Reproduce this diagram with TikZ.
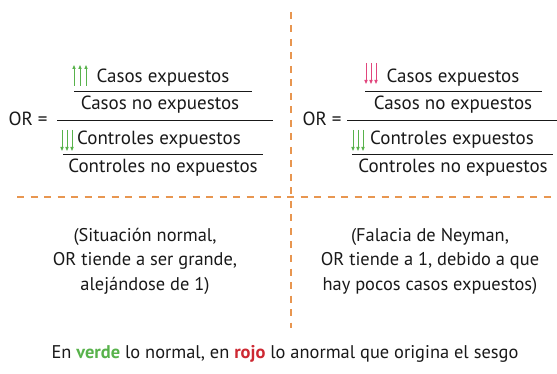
\documentclass[tikz,border=0pt]{standalone}
\usepackage{fontspec}
\setmainfont{PT Sans}
\usetikzlibrary{arrows.meta}
\definecolor{dashor}{RGB}{232,150,80}
\definecolor{grn}{RGB}{88,178,75}
\definecolor{pnk}{RGB}{225,70,125}
\definecolor{rojo}{RGB}{205,40,50}
\definecolor{ink}{RGB}{25,25,25}
\begin{document}
\begin{tikzpicture}[x=1pt,y=-1pt,
  txt/.style={font=\fontsize{19}{22}\selectfont, inner sep=0pt, text=ink},
  note/.style={font=\fontsize{18.4}{24.5}\selectfont, inner sep=0pt, text=ink, align=center},
  bar/.style={line width=1pt, draw=ink},
  sep/.style={draw=dashor, line width=2pt, dash pattern=on 7pt off 6.5pt},
  arr/.style={line width=0.9pt, -{Triangle[length=4pt,width=3.2pt]}}]
\useasboundingbox (0,0) rectangle (557,374);
% separators
\coordinate (vt) at (291,12);
\coordinate (vb) at (291,328);
\coordinate (hl) at (17,197);
\coordinate (hr) at (557,197);
\draw[sep] (vt) -- (vb);
\draw[sep] (hl) -- (hr);
% left panel
\node[txt] (lor) at (28,119) {OR =};
\node[txt] (lce) at (163,78) {Casos expuestos};
\node[txt] (lcn) at (160,105) {Casos no expuestos};
\node[txt] (lke) at (159,140) {Controles expuestos};
\node[txt] (lkn) at (163,168) {Controles no expuestos};
\draw[bar] (74,92) -- (252,92);
\draw[bar] (57,121) -- (273,121);
\draw[bar] (63,155) -- (263,155);
\foreach \x in {74,80,86}{\draw[arr,grn] (\x,86) -- (\x,65);}
\foreach \x in {62,67,72}{\draw[arr,grn] (\x,130) -- (\x,151);}
% right panel
\node[txt] (ror) at (322,119) {OR =};
\node[txt] (rce) at (453,78) {Casos expuestos};
\node[txt] (rcn) at (453,105) {Casos no expuestos};
\node[txt] (rke) at (452,140) {Controles expuestos};
\node[txt] (rkn) at (453,168) {Controles no expuestos};
\draw[bar] (365,92) -- (542,92);
\draw[bar] (347,121) -- (557,121);
\draw[bar] (352,155) -- (553,155);
\foreach \x in {366,371,376}{\draw[arr,pnk] (\x,63) -- (\x,84);}
\foreach \x in {353,358,363}{\draw[arr,grn] (\x,130) -- (\x,151);}
% bottom
\node[note] (lnote) at (145,261) {(Situación normal,\\OR tiende a ser grande,\\alejándose de 1)};
\node[note] (rnote) at (430,261) {(Falacia de Neyman,\\OR tiende a 1, debido a que\\hay pocos casos expuestos)};
\node[note] (legend) at (285,354) {En \textbf{\textcolor{grn}{verde}} lo normal, en \textbf{\textcolor{rojo}{rojo}} lo anormal que origina el sesgo};
\end{tikzpicture}
\end{document}
